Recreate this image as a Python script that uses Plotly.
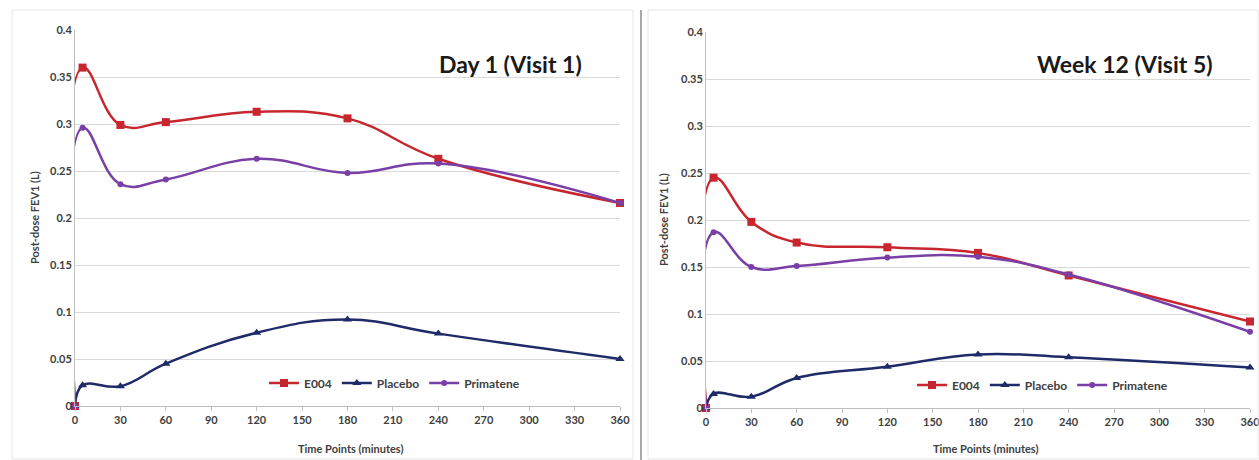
import plotly.graph_objects as go

time_points = [0, 5, 30, 60, 120, 180, 240, 360]
x_ticks = [0, 30, 60, 90, 120, 150, 180, 210, 240, 270, 300, 330, 360]
y_ticks = [0, 0.05, 0.1, 0.15, 0.2, 0.25, 0.3, 0.35, 0.4]
y_tick_labels = ["0", "0.05", "0.1", "0.15", "0.2", "0.25", "0.3", "0.35", "0.4"]

day1_e004 = [0, 0.360, 0.299, 0.302, 0.313, 0.306, 0.263, 0.216]
day1_placebo = [0, 0.022, 0.021, 0.045, 0.078, 0.092, 0.077, 0.050]
day1_primatene = [0, 0.296, 0.236, 0.241, 0.263, 0.248, 0.258, 0.216]

wk12_e004 = [0, 0.245, 0.198, 0.176, 0.171, 0.165, 0.141, 0.092]
wk12_placebo = [0, 0.015, 0.012, 0.032, 0.044, 0.057, 0.054, 0.043]
wk12_primatene = [0, 0.187, 0.150, 0.151, 0.160, 0.161, 0.142, 0.081]

series_names = ["E004", "Placebo", "Primatene"]
panel_titles = ["Day 1 (Visit 1)", "Week 12 (Visit 5)"]

colors = {"E004": "#C8262E", "Placebo": "#1F2A68", "Primatene": "#7A3FA6"}
symbols = {"E004": "square", "Placebo": "triangle-up", "Primatene": "circle"}
msizes = {"E004": 8, "Placebo": 8, "Primatene": 6}

W, H = 1259, 460
FONT = "Lato"

fig = go.Figure()

panels = [
    ("x", "y", "legend", [day1_e004, day1_placebo, day1_primatene]),
    ("x2", "y2", "legend2", [wk12_e004, wk12_placebo, wk12_primatene]),
]
for xa, ya, lg, data in panels:
    for name, vals in zip(series_names, data):
        fig.add_trace(go.Scatter(
            x=time_points, y=vals, name=name, mode="lines+markers",
            line=dict(color=colors[name], width=2.5, shape="spline", smoothing=1.2),
            marker=dict(symbol=symbols[name], size=msizes[name], color=colors[name]),
            xaxis=xa, yaxis=ya, legend=lg, showlegend=True, cliponaxis=False,
        ))

def px_x(p):
    return p / W

def px_y(p):
    return (H - p) / H

axis_common = dict(
    showgrid=False, zeroline=False, showline=True, linecolor="#BFBFBF", linewidth=1,
    tickfont=dict(family=FONT, size=11, color="#404040", weight="bold"), fixedrange=True,
    automargin=False, ticklabeloverflow="allow",
)
xcommon = dict(axis_common, range=[0, 360], tickvals=x_ticks, ticks="outside",
               ticklen=4, tickcolor="#BFBFBF")
ycommon = dict(axis_common, range=[0, 0.4], tickvals=y_ticks, ticktext=y_tick_labels,
               showgrid=True, gridcolor="#D9D9D9", gridwidth=1, ticks="")

legend_font = dict(family=FONT, size=12, color="#404040", weight="bold")
fig.update_layout(
    template="none",
    width=W, height=H,
    margin=dict(l=0, r=0, t=0, b=0, pad=0, autoexpand=False),
    paper_bgcolor="white", plot_bgcolor="white",
    font=dict(family=FONT, color="#404040"),
    xaxis=dict(xcommon, domain=[px_x(75), px_x(620)], anchor="y"),
    yaxis=dict(ycommon, domain=[px_y(406), px_y(30)], anchor="x"),
    xaxis2=dict(xcommon, domain=[px_x(706), px_x(1250)], anchor="y2"),
    yaxis2=dict(ycommon, domain=[px_y(408), px_y(32)], anchor="x2"),
    legend=dict(orientation="h", x=px_x(264), y=px_y(383), xanchor="left", yanchor="middle",
                font=legend_font, bgcolor="rgba(0,0,0,0)", itemwidth=30, tracegroupgap=0),
    legend2=dict(orientation="h", x=px_x(912), y=px_y(385), xanchor="left", yanchor="middle",
                 font=legend_font, bgcolor="rgba(0,0,0,0)", itemwidth=30, tracegroupgap=0),
    showlegend=True,
)

title_font = dict(family=FONT, size=23, color="#1A1A1A", weight="bold")
axis_title_font = dict(family=FONT, size=11, color="#404040", weight="bold")
annotations = [
    dict(text=panel_titles[0], x=px_x(510), y=px_y(64), font=title_font),
    dict(text=panel_titles[1], x=px_x(1125), y=px_y(64), font=title_font),
    dict(text="Post-dose FEV1 (L)", x=px_x(34), y=px_y(218), textangle=-90, font=axis_title_font),
    dict(text="Post-dose FEV1 (L)", x=px_x(663), y=px_y(220), textangle=-90, font=axis_title_font),
    dict(text="Time Points (minutes)", x=px_x(350), y=px_y(448), font=axis_title_font),
    dict(text="Time Points (minutes)", x=px_x(985), y=px_y(448), font=axis_title_font),
]
for a in annotations:
    a.update(xref="paper", yref="paper", xanchor="center", yanchor="middle", showarrow=False)
fig.update_layout(annotations=annotations)

shapes = [
    dict(type="rect", xref="paper", yref="paper", x0=px_x(12), x1=px_x(633), y0=px_y(459), y1=px_y(10),
         line=dict(color="#E6E6E6", width=1)),
    dict(type="rect", xref="paper", yref="paper", x0=px_x(648), x1=px_x(1258), y0=px_y(459), y1=px_y(10),
         line=dict(color="#E6E6E6", width=1)),
    dict(type="line", xref="paper", yref="paper", x0=px_x(641), x1=px_x(641), y0=px_y(460), y1=px_y(10),
         line=dict(color="#8C8C8C", width=1.5)),
]
fig.update_layout(shapes=shapes)

fig.write_html("out.html", config={"displayModeBar": False},
               post_script="document.body.style.margin='0';")
